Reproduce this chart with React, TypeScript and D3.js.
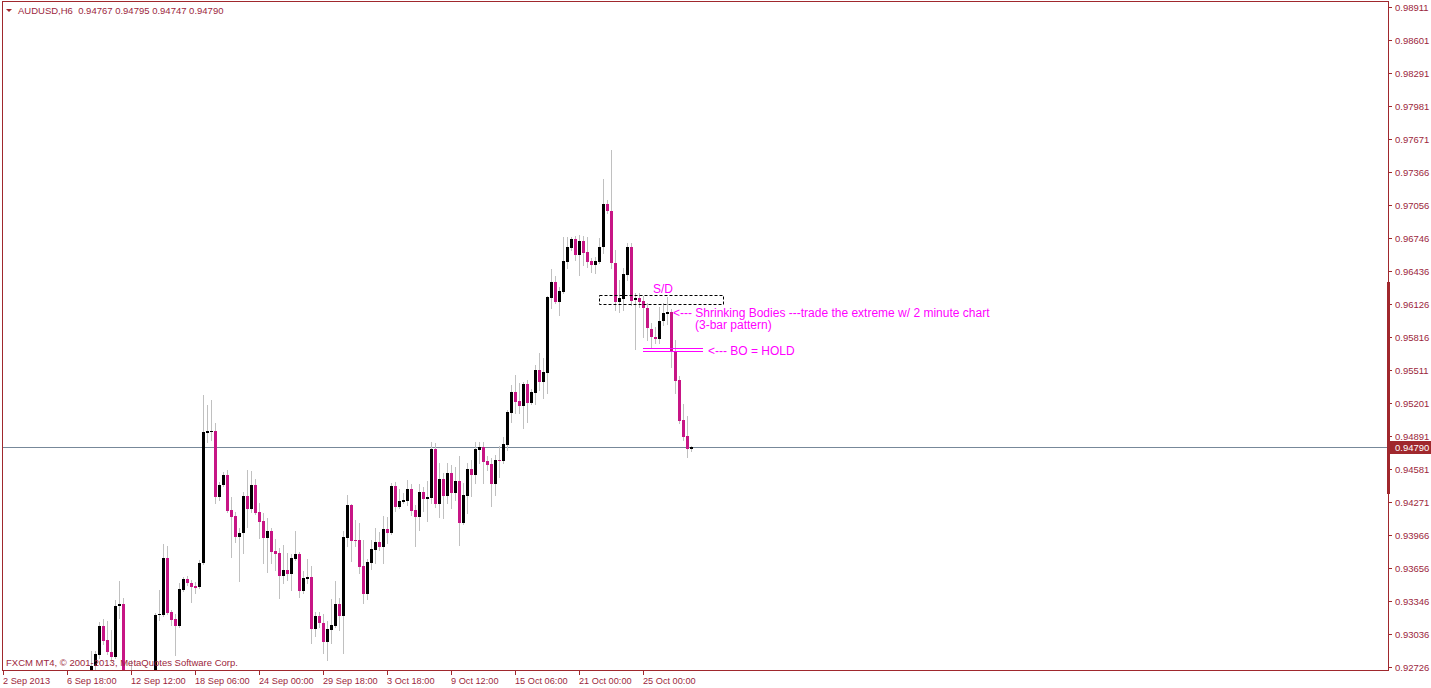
import React from "react";
import * as d3 from "d3";

const W = 1431;
const H = 688;

// first drawn bar index (bars before it lie below the visible price range)
const FIRST_BAR = 22;
const opens = [
  0.92512, 0.92737, 0.9284, 0.93111, 0.9298, 0.92868, 0.92821, 0.93299, 0.93318, 0.92418,
  0.92306, 0.92512, 0.92371, 0.92512, 0.92418, 0.92512, 0.92437, 0.93214, 0.93214, 0.93749,
  0.93243, 0.93177, 0.93111, 0.93449, 0.93552, 0.93514, 0.93486, 0.93477, 0.93702, 0.9492,
  0.94929, 0.94939, 0.9432, 0.94433, 0.94526, 0.94198, 0.94142, 0.93945, 0.93983, 0.9433,
  0.94208, 0.94433, 0.9418, 0.94095, 0.93936, 0.94002, 0.93814, 0.93795, 0.9358, 0.93636,
  0.93599, 0.93739, 0.93786, 0.93439, 0.93552, 0.93571, 0.93083, 0.93205, 0.9314, 0.92962,
  0.93074, 0.93111, 0.93318, 0.93205, 0.93936, 0.94245, 0.93917, 0.93917, 0.93674, 0.93411,
  0.93702, 0.93824, 0.93899, 0.93852, 0.9402, 0.93983, 0.94423, 0.94226, 0.94273, 0.94283,
  0.94395, 0.94198, 0.94133, 0.94367, 0.94301, 0.94311, 0.9477, 0.94255, 0.94489, 0.9433,
  0.94545, 0.94358, 0.9447, 0.94077, 0.9433, 0.94583, 0.94526, 0.94761, 0.94789, 0.94657,
  0.94629, 0.94442, 0.94667, 0.94657, 0.94807, 0.95107, 0.95304, 0.9522, 0.95173, 0.95379,
  0.95201, 0.95295, 0.9551, 0.95398, 0.95482, 0.96185, 0.96335, 0.96147, 0.96241, 0.96522,
  0.96653, 0.96738, 0.96588, 0.96719, 0.96616, 0.96531, 0.96494, 0.96522, 0.96663, 0.97066,
  0.97, 0.96513, 0.96147, 0.96175, 0.964, 0.96663, 0.96166, 0.96185, 0.96157, 0.96091,
  0.95894, 0.95819, 0.95801, 0.95969, 0.96035, 0.96054, 0.95679, 0.95416, 0.95042, 0.94892,
  0.94767,
];
const highs = [
  0.92877, 0.92877, 0.93149, 0.93177, 0.93158, 0.93074, 0.93355, 0.93533, 0.93374, 0.92512,
  0.92793, 0.9268, 0.92643, 0.92605, 0.92652, 0.92652, 0.93233, 0.93449, 0.9388, 0.93861,
  0.93261, 0.93224, 0.93514, 0.93571, 0.9358, 0.93542, 0.93524, 0.9373, 0.95276, 0.95182,
  0.95229, 0.95014, 0.94461, 0.94554, 0.94573, 0.9432, 0.9418, 0.9403, 0.94367, 0.94573,
  0.94564, 0.94489, 0.94264, 0.9417, 0.94123, 0.9403, 0.93927, 0.93842, 0.9387, 0.93795,
  0.93786, 0.94002, 0.93805, 0.93627, 0.93739, 0.93674, 0.93243, 0.93243, 0.93224, 0.93158,
  0.93364, 0.93533, 0.93374, 0.94002, 0.94339, 0.94254, 0.94105, 0.94077, 0.93917, 0.93739,
  0.93917, 0.9403, 0.93992, 0.94142, 0.94133, 0.94451, 0.94461, 0.94395, 0.94358, 0.94479,
  0.94442, 0.94245, 0.94442, 0.94414, 0.9447, 0.94836, 0.94826, 0.94639, 0.94545, 0.94639,
  0.9462, 0.94601, 0.94704, 0.94451, 0.94639, 0.94667, 0.94836, 0.94836, 0.94836, 0.94704,
  0.94686, 0.94714, 0.94798, 0.94882, 0.95135, 0.9537, 0.95463, 0.95388, 0.95398, 0.95416,
  0.95332, 0.95557, 0.95669, 0.95623, 0.96204, 0.96457, 0.96391, 0.96288, 0.96756, 0.96756,
  0.96756, 0.96766, 0.96775, 0.96766, 0.96756, 0.9656, 0.96569, 0.96747, 0.973, 0.97103,
  0.97572, 0.96635, 0.96353, 0.96466, 0.967, 0.967, 0.96232, 0.96232, 0.96204, 0.96138,
  0.95951, 0.95913, 0.961, 0.96138, 0.96194, 0.96082, 0.95791, 0.95454, 0.95192, 0.95079,
  0.94795,
];
const lows = [
  0.92418, 0.92699, 0.92812, 0.92943, 0.92849, 0.92783, 0.92812, 0.93186, 0.92324, 0.92231,
  0.92277, 0.92306, 0.92324, 0.92371, 0.92362, 0.92371, 0.92418, 0.93168, 0.93205, 0.93224,
  0.93121, 0.9284, 0.93102, 0.93439, 0.93496, 0.93336, 0.93421, 0.93467, 0.93692, 0.94836,
  0.94854, 0.94264, 0.94292, 0.94423, 0.9418, 0.93758, 0.93899, 0.93533, 0.93795, 0.94039,
  0.9418, 0.94161, 0.93936, 0.93702, 0.93617, 0.93702, 0.93636, 0.93374, 0.93514, 0.93542,
  0.93449, 0.9373, 0.93383, 0.93421, 0.93514, 0.92952, 0.93018, 0.93102, 0.92858, 0.92793,
  0.92952, 0.93102, 0.93074, 0.92858, 0.93861, 0.9372, 0.93861, 0.93608, 0.93327, 0.93364,
  0.93646, 0.93702, 0.93824, 0.93702, 0.93889, 0.93973, 0.94189, 0.94217, 0.94264, 0.94245,
  0.94151, 0.93861, 0.94011, 0.94189, 0.94095, 0.94264, 0.94226, 0.94133, 0.94123, 0.94264,
  0.94217, 0.94292, 0.9387, 0.94067, 0.9417, 0.9433, 0.94451, 0.94639, 0.94451, 0.94573,
  0.94236, 0.94339, 0.94508, 0.94639, 0.94761, 0.95023, 0.95107, 0.95107, 0.94967, 0.95023,
  0.95192, 0.95192, 0.95323, 0.95248, 0.95295, 0.96091, 0.96138, 0.96025, 0.96232, 0.96466,
  0.96635, 0.96541, 0.964, 0.96494, 0.96475, 0.96428, 0.96419, 0.96513, 0.96606, 0.96981,
  0.96466, 0.96072, 0.96054, 0.96072, 0.96353, 0.96119, 0.95707, 0.961, 0.95819, 0.95791,
  0.95726, 0.95763, 0.95763, 0.95932, 0.95941, 0.95538, 0.95295, 0.95014, 0.94854, 0.94695,
  0.94747,
];
const closes = [
  0.92737, 0.92849, 0.93111, 0.92971, 0.92868, 0.92821, 0.93299, 0.93318, 0.92418, 0.92306,
  0.92512, 0.92371, 0.92512, 0.92418, 0.92512, 0.92437, 0.93214, 0.93224, 0.93749, 0.93233,
  0.93168, 0.93111, 0.93458, 0.93552, 0.93514, 0.93477, 0.93467, 0.93702, 0.94929, 0.94939,
  0.94939, 0.9432, 0.94433, 0.94526, 0.94189, 0.94133, 0.93945, 0.93983, 0.9433, 0.94208,
  0.94433, 0.9417, 0.94086, 0.93936, 0.94002, 0.93805, 0.93786, 0.9358, 0.93636, 0.93599,
  0.93749, 0.93786, 0.93439, 0.93561, 0.93571, 0.93083, 0.93205, 0.9314, 0.92962, 0.93083,
  0.93121, 0.93318, 0.93205, 0.93945, 0.94245, 0.93908, 0.93908, 0.93664, 0.93411, 0.93711,
  0.93833, 0.93899, 0.93852, 0.9402, 0.93983, 0.94423, 0.94226, 0.94283, 0.94292, 0.94395,
  0.94189, 0.94133, 0.94367, 0.94301, 0.9432, 0.9477, 0.94255, 0.94489, 0.9433, 0.94545,
  0.94358, 0.9447, 0.94077, 0.94339, 0.94583, 0.94526, 0.9477, 0.94789, 0.94648, 0.9462,
  0.94442, 0.94667, 0.94657, 0.94817, 0.95117, 0.95304, 0.9521, 0.95173, 0.95379, 0.95201,
  0.95304, 0.9551, 0.95398, 0.95491, 0.96194, 0.96335, 0.96147, 0.9625, 0.96531, 0.96663,
  0.96738, 0.96588, 0.96719, 0.96606, 0.96522, 0.96494, 0.96531, 0.96663, 0.97066, 0.97,
  0.96513, 0.96147, 0.96185, 0.9641, 0.96663, 0.96157, 0.96185, 0.96147, 0.96091, 0.95904,
  0.95819, 0.95801, 0.95969, 0.96044, 0.96054, 0.95679, 0.95407, 0.95032, 0.94882, 0.94767,
  0.9479,
];

const LAST_BAR = 172;
const priceTicks = [
  0.98911, 0.98601, 0.98291, 0.97981, 0.97671, 0.97366, 0.97056, 0.96746, 0.96436, 0.96126,
  0.95816, 0.95511, 0.95201, 0.94891, 0.94581, 0.94271, 0.93966, 0.93656, 0.93346, 0.93036,
  0.92726,
];
const timeTickBars = [0, 16, 32, 48, 64, 80, 96, 112, 128, 144, 160];
const timeTickLabels = [
  "2 Sep 2013", "6 Sep 18:00", "12 Sep 12:00", "18 Sep 06:00", "24 Sep 00:00",
  "29 Sep 18:00", "3 Oct 18:00", "9 Oct 12:00", "15 Oct 06:00", "21 Oct 00:00", "25 Oct 00:00",
];
const symbolTitle = "AUDUSD,H6  0.94767 0.94795 0.94747 0.94790";
const lastPrice = 0.9479;
const copyright = "FXCM MT4, \u00A9 2001-2013, MetaQuotes Software Corp.";

// annotation anchors (bar index / price)
const sdZone = { bar0: 149, bar1: 180, top: 0.96213, bottom: 0.96129 };
const boLevels = [0.95716, 0.95688];
const boBars = [160, 175];

const FRAME = "#A0282D";
const TEXT = "#9C1F3C";
const BEAR = "#C71585";
const WICK = "#C0C0C0";
const NOTE = "#FF00FF";
const FONT = "'Liberation Sans', Arial, sans-serif";

export default function App() {
  const left = 2, top = 1, right = 1388, bottom = 670;
  const x = d3.scaleLinear().domain([0, LAST_BAR]).range([3, 691]);
  const y = d3.scaleLinear().domain([0.92726, 0.98911]).range([667, 7]);

  const bars = opens.map((o, k) => ({
    i: FIRST_BAR + k, o, h: highs[k], l: lows[k], c: closes[k],
  }));

  const py = (v: number) => Math.round(y(v));
  const lastY = py(lastPrice);

  return (
    <svg width={W} height={H} style={{ position: "absolute", left: 0, top: 0, background: "#fff" }}>
      <defs>
        <clipPath id="plot">
          <rect x={left + 1} y={top + 1} width={right - left - 1} height={bottom - top - 1} />
        </clipPath>
      </defs>
      <rect x={0} y={0} width={W} height={H} fill="#fff" />
      {/* price line */}
      <line x1={left} x2={right} y1={lastY + 0.5} y2={lastY + 0.5} stroke="#778899" strokeWidth={1} />
      <g clipPath="url(#plot)">
        {bars.map((b) => {
          const cx = Math.round(x(b.i));
          const bull = b.c >= b.o;
          const yt = py(Math.max(b.o, b.c));
          const yb = py(Math.min(b.o, b.c));
          return (
            <g key={b.i}>
              <line x1={cx + 0.5} x2={cx + 0.5} y1={py(b.h)} y2={py(b.l) + 1} stroke={WICK} strokeWidth={1} />
              <rect x={cx - 1} y={yt} width={3} height={Math.max(1, yb - yt)} fill={bull ? "#000" : BEAR} />
            </g>
          );
        })}
      </g>
      {/* annotations */}
      <rect
        x={Math.round(x(sdZone.bar0)) + 0.5}
        y={py(sdZone.top) + 0.5}
        width={Math.round(x(sdZone.bar1) - x(sdZone.bar0))}
        height={py(sdZone.bottom) - py(sdZone.top)}
        fill="none" stroke="#000" strokeWidth={1} strokeDasharray="3,2"
      />
      {boLevels.map((v, k) => (
        <line key={k} x1={Math.round(x(boBars[0]))} x2={Math.round(x(boBars[1]))}
          y1={py(v) + 0.5} y2={py(v) + 0.5} stroke={NOTE} strokeWidth={1} />
      ))}
      <g fill={NOTE} fontFamily={FONT} fontSize={12}>
        <text x={653} y={293}>S/D</text>
        <text x={673} y={317}>{"<--- Shrinking Bodies ---trade the extreme w/ 2 minute chart"}</text>
        <text x={695} y={329}>(3-bar pattern)</text>
        <text x={708} y={355}>{"<--- BO = HOLD"}</text>
      </g>
      {/* frame */}
      <rect x={left + 0.5} y={top + 0.5} width={right - left} height={bottom - top} fill="none" stroke={FRAME} strokeWidth={1} />
      <rect x={right - 1} y={282} width={3} height={212} fill={FRAME} />
      {/* header */}
      <path d="M6,9 L12,9 L9,12 Z" fill={FRAME} />
      <text x={18} y={14} fill={TEXT} fontFamily={FONT} fontSize={9.5} style={{ whiteSpace: "pre" }}>{symbolTitle}</text>
      <text x={6} y={666} fill={TEXT} fontFamily={FONT} fontSize={9.5}>{copyright}</text>
      {/* price axis */}
      {priceTicks.map((v) => {
        const ty = py(v);
        return (
          <g key={v}>
            <line x1={right} x2={right + 4} y1={ty + 0.5} y2={ty + 0.5} stroke={FRAME} />
            <text x={1395} y={ty + 3.5} fill={TEXT} fontFamily={FONT} fontSize={9.5}>{v.toFixed(5)}</text>
          </g>
        );
      })}
      <rect x={right} y={lastY - 6} width={W - right} height={13} fill={FRAME} />
      <text x={1395} y={lastY + 4} fill="#fff" fontFamily={FONT} fontSize={9.5}>{lastPrice.toFixed(5)}</text>
      {/* time axis */}
      {timeTickBars.map((b, k) => {
        const tx = Math.round(x(b));
        return (
          <g key={b}>
            <line x1={tx + 0.5} x2={tx + 0.5} y1={bottom} y2={bottom + 5} stroke={FRAME} />
            <text x={tx} y={684} fill={TEXT} fontFamily={FONT} fontSize={9.2}>{timeTickLabels[k]}</text>
          </g>
        );
      })}
    </svg>
  );
}
